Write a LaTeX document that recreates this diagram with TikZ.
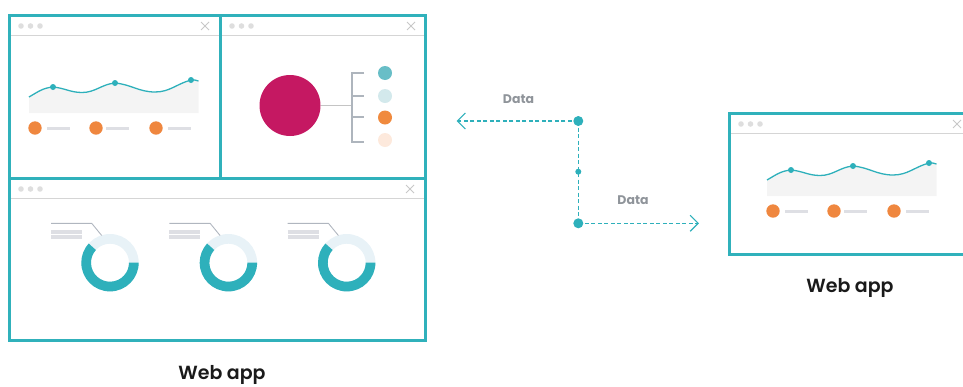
\documentclass[tikz,border=0pt]{standalone}
\usepackage{fontspec}
\setmainfont{Poppins}[BoldFont=Poppins SemiBold]
\newfontfamily\heavyfont{Poppins Bold}
\usetikzlibrary{arrows.meta,calc}

\definecolor{frameteal}{HTML}{30B1BB}
\definecolor{ringteal}{HTML}{2EB0BB}
\definecolor{ringlight}{HTML}{E8F2F7}
\definecolor{barline}{HTML}{D5D5D5}
\definecolor{dotgray}{HTML}{DEDEDE}
\definecolor{crossgray}{HTML}{C8C8C8}
\definecolor{areafill}{HTML}{F4F4F4}
\definecolor{legorange}{HTML}{EF873F}
\definecolor{leggray}{HTML}{DEDFE4}
\definecolor{leadgray}{HTML}{B0B6BF}
\definecolor{brackgray}{HTML}{AEB5BD}
\definecolor{magenta}{HTML}{C51862}
\definecolor{c1}{HTML}{68BEC7}
\definecolor{c2}{HTML}{D3E9EC}
\definecolor{c3}{HTML}{F08A3E}
\definecolor{c4}{HTML}{FDE9DC}
\definecolor{datagray}{HTML}{8F949A}
\definecolor{labelblack}{HTML}{1A1A1A}

\tikzset{
  frame/.style={draw=frameteal, line width=3},
  titleline/.style={draw=barline, line width=1.5},
  wdot/.style={fill=dotgray},
  cross/.style={draw=crossgray, line width=0.9},
  legbar/.style={draw=leggray, line width=3},
  wave/.style={draw=ringteal, line width=1.3},
  flow/.style={draw=ringteal, line width=1.2, dash pattern=on 4 off 2.5},
  flowtip/.style={-{Straight Barb[length=8,width=16,line width=1.2]}},
  datalabel/.style={text=datagray, font=\heavyfont\fontsize{12.5}{14}\selectfont},
  applabel/.style={text=labelblack, font=\bfseries\fontsize{19}{22}\selectfont},
}

% window title bar: left dot x, line from x, line to x, dot y, cross x
\newcommand{\wintitle}[5]{%
  \fill[wdot] (#1,#4) circle (2.8) (#1+9.5,#4) circle (2.8) (#1+19,#4) circle (2.8);
  \draw[titleline] (#2,#4+9.5) -- (#3,#4+9.5);
  \draw[cross] (#5-4,#4-4) -- (#5+4,#4+4) (#5-4,#4+4) -- (#5+4,#4-4);
}

% line chart with legend, drawn at the given shift
\newcommand{\linechart}[2]{%
  \begin{scope}[shift={(#1,#2)}]
    \fill[areafill] (29,97) to[out=30,in=185] (53,87) to[out=-5,in=180] (82,92.5)
      to[out=0,in=185] (115,83) to[out=-5,in=180] (155,92) to[out=0,in=195] (191,80)
      to[out=15,in=170] (198.5,81) -- (198.5,113) -- (29,113) -- cycle;
    \draw[wave] (29,97) to[out=30,in=185] (53,87) to[out=-5,in=180] (82,92.5)
      to[out=0,in=185] (115,83) to[out=-5,in=180] (155,92) to[out=0,in=195] (191,80)
      to[out=15,in=170] (198.5,81);
    \fill[ringteal] (53,87) circle (3) (115,83) circle (3) (191,80) circle (3);
    \fill[legorange] (35,128) circle (6.7) (96,128) circle (6.7) (156,128) circle (6.7);
    \draw[legbar] (47,128) -- (70,128) (106,128) -- (129,128) (168,128) -- (191,128);
  \end{scope}
}

% donut gauge with its caption bars, centred at the given point
\newcommand{\donut}[2]{%
  \fill[ringlight, even odd rule] (#1,#2) circle (28.7) (#1,#2) circle (19);
  \fill[ringteal] ($(#1,#2)+(0:28.7)$) arc[start angle=0,end angle=222,radius=28.7]
    -- ($(#1,#2)+(222:19)$) arc[start angle=222,end angle=0,radius=19] -- cycle;
  \draw[draw=leadgray, line width=0.9] (#1-59,#2-39.4) -- (#1-18.3,#2-39.4) -- (#1-8.3,#2-27.2);
  \draw[leggray, line width=3.7] (#1-59,#2-30.8) -- (#1-28,#2-30.8) (#1-59,#2-25.8) -- (#1-28,#2-25.8);
}

\begin{document}
\begin{tikzpicture}[x=1pt,y=-1pt]
  \useasboundingbox (0,0) rectangle (963,386);

  % ---- dashboard web app ----
  \wintitle{21}{11}{218.5}{26}{205}
  \wintitle{232}{221.5}{423.5}{26}{411}
  \wintitle{21}{11}{423.5}{189}{410}

  \linechart{0}{0}

  % hierarchy widget
  \draw[draw=barline!80!gray, line width=1.5] (320.5,105.3) -- (352,105.3);
  \draw[brackgray, line width=2] (364,72.7) -- (352,72.7) -- (352,141.5) -- (364,141.5)
    (352,96) -- (364,96) (352,117.3) -- (364,117.3);
  \fill[magenta] (290,105.5) circle (30.5);
  \fill[c1] (385,73) circle (7);
  \fill[c2] (385,96) circle (7);
  \fill[c3] (385,117.5) circle (7);
  \fill[c4] (385,140) circle (7);

  % gauges
  \donut{110}{262.7}
  \donut{228.4}{262.7}
  \donut{346.7}{262.7}

  % frames
  \draw[frame] (9.5,15.5) rectangle (425,340.5);
  \draw[frame] (220,15.5) -- (220,178.5);
  \draw[frame] (9.5,178.5) -- (425,178.5);

  \node[applabel] (leftapp) at (222,375) {Web app};

  % ---- single web app ----
  \wintitle{741}{731}{970}{124}{957}
  \linechart{738}{83}
  \draw[frame] (729.5,113) rectangle (975,254.5);
  \node[applabel] (rightapp) at (850,287.5) {Web app};

  % ---- data flow ----
  \coordinate (hubtop) at (578.3,121);
  \coordinate (hubmid) at (578.3,171.7);
  \coordinate (hubbot) at (578.3,223.3);
  \coordinate (toleft) at (456.5,121);
  \coordinate (toright) at (699,223.3);
  \draw[flow] (hubtop) -- (hubbot);
  \draw[flow, flowtip] (hubtop) -- (toleft);
  \draw[flow, flowtip] (hubbot) -- (toright);
  \fill[ringteal] (hubtop) circle (5) (hubmid) circle (3) (hubbot) circle (5);
  \node[datalabel] (dataleft) at (518.5,99) {Data};
  \node[datalabel] (dataright) at (633,200) {Data};
\end{tikzpicture}
\end{document}
